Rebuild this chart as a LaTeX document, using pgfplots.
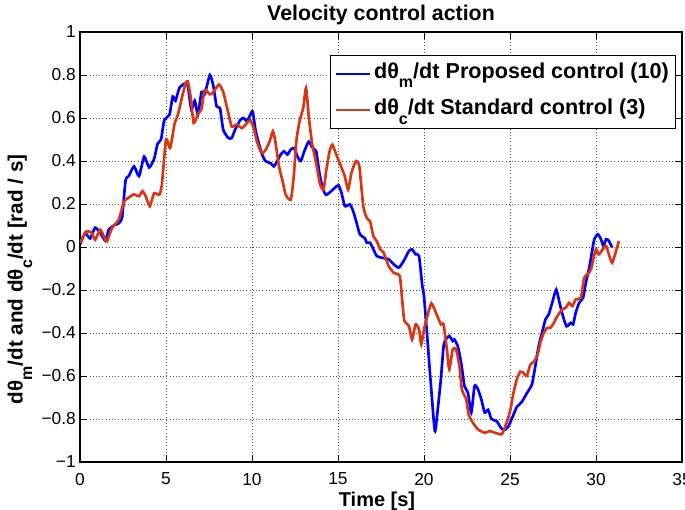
\documentclass[border=0pt]{standalone}
\usepackage{fontspec}
\setmainfont{Liberation Sans}
\usepackage{pgfplots}
\pgfplotsset{compat=1.18}
\definecolor{mblue}{RGB}{0,0,255}
\definecolor{mred}{RGB}{218,54,20}
\newcommand\sub[1]{\raisebox{-0.45em}{\fontsize{12}{12}\selectfont #1}}
\begin{document}
\begin{tikzpicture}
\begin{axis}[
  scale only axis, width=451.5pt, height=322.5pt,
  xmin=0, xmax=35, ymin=-1, ymax=1,
  xtick={0,5,10,15,20,25,30,35},
  xticklabels={0,5,10,15,20,25,30,35},
  ytick={-1,-0.8,-0.6,-0.4,-0.2,0,0.2,0.4,0.6,0.8,1},
  yticklabels={−1,−0.8,−0.6,−0.4,−0.2,0,0.2,0.4,0.6,0.8,1},
  tick align=inside, xtick pos=both, ytick pos=both,
  major tick length=5pt,
  grid=major,
  major grid style={dotted, black!70, line width=0.6pt},
  axis line style={black, line width=0.8pt},
  tick style={black, line width=0.6pt},
  ticklabel style={font=\fontsize{13}{15}\selectfont},
  xticklabel style={anchor=north, inner sep=0pt, yshift=-8pt},
  yticklabel style={anchor=east, inner sep=0pt, xshift=-3pt},
  title={Velocity control action},
  title style={font=\bfseries\fontsize{16}{19}\selectfont, at={(axis description cs:0.5,1)}, anchor=base, yshift=2.8pt},
  xlabel={Time [s]},
  xlabel style={font=\bfseries\fontsize{15}{18}\selectfont, at={(axis description cs:0.5,0)}, anchor=base, yshift=-33.5pt, xshift=-3pt},
  ylabel={dθ\sub{m}/dt and dθ\sub{c}/dt [rad / s]},
  ylabel style={font=\bfseries\fontsize{15.5}{18}\selectfont, at={(axis description cs:-0.0997,0.425)}, anchor=center},
  legend cell align=left,
  legend style={at={(1,1)}, anchor=north east, xshift=-4.5pt, yshift=-17.25pt,
    draw=black, line width=0.75pt, fill=white, inner xsep=3pt, inner ysep=3.5pt,
    row sep=7pt,
    font=\bfseries\fontsize{16.2}{18}\selectfont,
    nodes={inner sep=2pt, text height=11.5pt, text depth=5pt}},
  legend image code/.code={\draw[#1, line width=1.5pt] (0pt,0pt) -- (26pt,0pt);},
]
\addplot[mblue, line width=2pt, smooth, tension=0.35] coordinates {
(0.00,0.01) (0.29,0.065) (0.59,0.04) (0.88,0.09) (1.18,0.065) (1.47,0.03) (1.67,0.08) (1.96,0.10)
(2.25,0.11) (2.45,0.14) (2.65,0.31) (2.84,0.33) (3.14,0.375) (3.43,0.33) (3.73,0.42) (4.02,0.37)
(4.31,0.41) (4.51,0.48) (4.71,0.50) (4.90,0.59) (5.20,0.615) (5.39,0.70) (5.55,0.68) (5.78,0.74)
(6.08,0.76) (6.27,0.75) (6.47,0.64) (6.67,0.68) (6.86,0.615) (7.06,0.72) (7.25,0.71) (7.55,0.80)
(7.75,0.75) (7.94,0.655) (8.14,0.645) (8.33,0.545) (8.63,0.507) (8.82,0.507) (9.02,0.546) (9.31,0.59)
(9.51,0.60) (9.71,0.585) (9.90,0.615) (10.04,0.63) (10.20,0.546) (10.39,0.484) (10.59,0.43) (10.78,0.40)
(11.08,0.39) (11.27,0.375) (11.47,0.40) (11.67,0.43) (11.86,0.445) (12.06,0.43) (12.25,0.453) (12.45,0.46)
(12.65,0.42) (12.84,0.40) (13.04,0.445) (13.30,0.49) (13.53,0.46) (13.73,0.445) (13.92,0.344) (14.12,0.27)
(14.31,0.243) (14.61,0.26) (14.80,0.274) (15.03,0.287) (15.20,0.253) (15.40,0.19) (15.69,0.198) (15.88,0.167)
(16.08,0.113) (16.27,0.059) (16.57,0.040) (16.67,0.02) (16.86,0.02) (17.06,-0.011) (17.25,-0.042) (17.55,-0.05)
(17.94,-0.057) (18.24,-0.08) (18.53,-0.096) (18.82,-0.065) (19.12,-0.019) (19.31,-0.011) (19.51,-0.034) (19.71,-0.042)
(19.90,-0.18) (20.00,-0.228) (20.20,-0.43) (20.39,-0.63) (20.63,-0.856) (20.78,-0.77) (20.98,-0.615) (21.14,-0.46)
(21.27,-0.43) (21.47,-0.414) (21.67,-0.437) (21.76,-0.43) (21.96,-0.46) (22.16,-0.538) (22.35,-0.646) (22.55,-0.677)
(22.75,-0.77) (22.94,-0.646) (23.14,-0.662) (23.33,-0.708) (23.53,-0.77) (23.73,-0.757) (23.92,-0.80) (24.22,-0.81)
(24.51,-0.845) (24.71,-0.85) (24.90,-0.835) (25.10,-0.80) (25.39,-0.745) (25.69,-0.72) (25.98,-0.68) (26.27,-0.64)
(26.47,-0.555) (26.67,-0.46) (26.86,-0.40) (27.06,-0.337) (27.25,-0.314) (27.45,-0.26) (27.69,-0.198) (27.88,-0.26)
(28.08,-0.322) (28.29,-0.369) (28.53,-0.353) (28.67,-0.36) (28.82,-0.306) (29.02,-0.26) (29.25,-0.236) (29.41,-0.166)
(29.61,-0.096) (29.76,-0.026) (29.90,0.036) (30.10,0.059) (30.29,0.036) (30.43,0.005) (30.59,0.036) (30.75,0.028)
(30.94,-0.003)
};
\addlegendentry{dθ\sub{m}/dt Proposed control (10)}
\addplot[mred, line width=2pt, smooth, tension=0.35] coordinates {
(0.00,0.02) (0.39,0.073) (0.69,0.065) (0.88,0.034) (1.18,0.08) (1.47,0.034) (1.57,0.026) (1.86,0.088)
(2.25,0.127) (2.55,0.21) (2.84,0.23) (3.14,0.245) (3.43,0.236) (3.63,0.26) (3.82,0.236) (4.06,0.19)
(4.31,0.25) (4.61,0.243) (4.76,0.29) (5.00,0.50) (5.24,0.46) (5.49,0.57) (5.69,0.615) (5.94,0.70)
(6.14,0.76) (6.27,0.77) (6.43,0.70) (6.61,0.577) (6.86,0.62) (7.06,0.64) (7.25,0.73) (7.55,0.71)
(7.75,0.72) (8.08,0.755) (8.33,0.72) (8.63,0.62) (8.82,0.56) (9.12,0.57) (9.41,0.553) (9.71,0.577)
(9.90,0.59) (10.10,0.553) (10.29,0.49) (10.55,0.437) (10.78,0.45) (11.02,0.49) (11.22,0.538) (11.37,0.484)
(11.57,0.375) (11.76,0.313) (11.96,0.243) (12.25,0.22) (12.41,0.313) (12.59,0.50) (12.78,0.59) (12.98,0.647)
(13.14,0.74) (13.30,0.608) (13.49,0.484) (13.73,0.39) (13.96,0.29) (14.16,0.267) (14.31,0.352) (14.51,0.445)
(14.67,0.476) (14.90,0.43) (15.10,0.39) (15.39,0.33) (15.59,0.267) (15.78,0.344) (16.04,0.40) (16.24,0.375)
(16.47,0.19) (16.67,0.135) (16.86,0.12) (17.06,0.05) (17.25,0.028) (17.45,-0.011) (17.65,-0.026) (17.94,-0.088)
(18.24,-0.12) (18.59,-0.135) (18.73,-0.245) (18.86,-0.344) (19.12,-0.367) (19.31,-0.43) (19.51,-0.36) (19.71,-0.383)
(19.84,-0.453) (20.00,-0.383) (20.20,-0.32) (20.43,-0.262) (20.69,-0.305) (20.98,-0.36) (21.14,-0.36) (21.33,-0.476)
(21.47,-0.569) (21.67,-0.476) (21.86,-0.476) (22.06,-0.553) (22.20,-0.662) (22.45,-0.708) (22.59,-0.778) (22.84,-0.817)
(23.14,-0.848) (23.53,-0.864) (23.82,-0.856) (24.12,-0.864) (24.51,-0.871) (24.70,-0.84) (25.00,-0.765) (25.20,-0.68)
(25.39,-0.617) (25.59,-0.58) (25.78,-0.586) (25.98,-0.60) (26.18,-0.547) (26.43,-0.53) (26.63,-0.493) (26.76,-0.446)
(26.96,-0.40) (27.16,-0.376) (27.35,-0.376) (27.55,-0.353) (27.75,-0.322) (28.04,-0.29) (28.24,-0.283) (28.43,-0.26)
(28.63,-0.275) (28.82,-0.244) (29.12,-0.236) (29.31,-0.143) (29.51,-0.128) (29.71,-0.104) (29.84,-0.058) (30.00,-0.011)
(30.16,-0.034) (30.39,-0.011) (30.59,0.005) (30.78,-0.042) (30.94,-0.073) (31.14,-0.026) (31.33,0.028)
};
\addlegendentry{dθ\sub{c}/dt Standard control (3)}
\end{axis}
\pgfresetboundingbox
\path[use as bounding box] ([shift={(-60pt,-36pt)}]current axis.south west) rectangle ([shift={(2.25pt,24pt)}]current axis.north east);
\end{tikzpicture}
\end{document}
